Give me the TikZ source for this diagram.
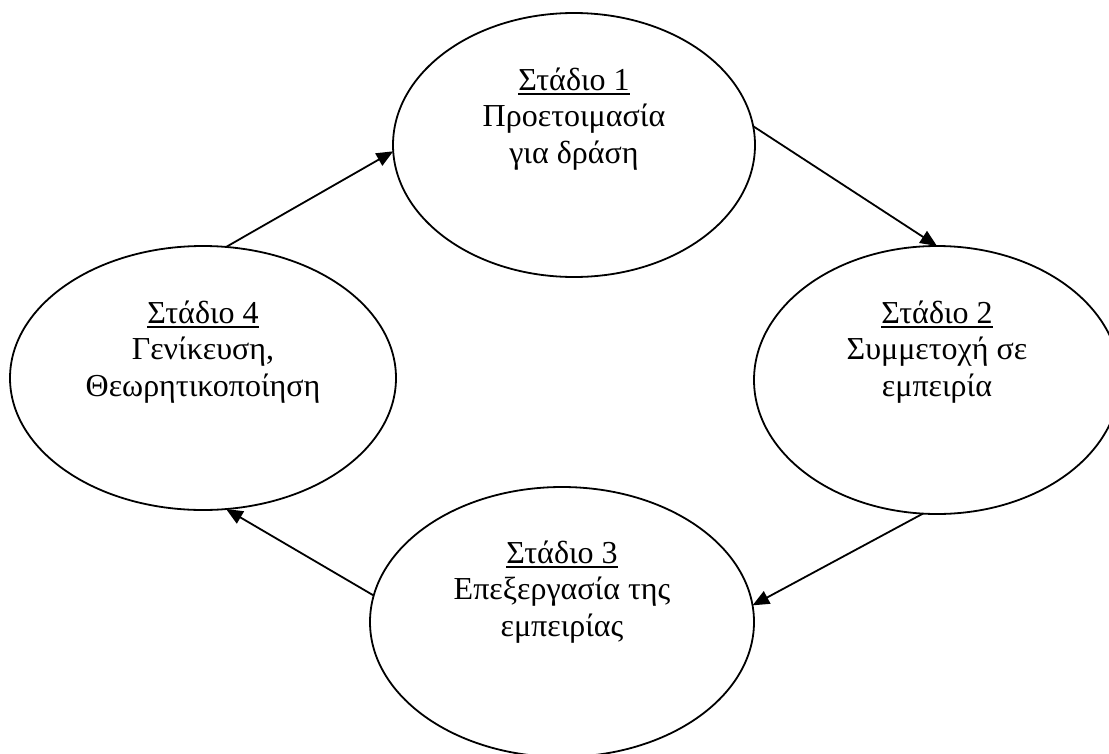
\documentclass[tikz,border=0pt]{standalone}
\usepackage{fontspec}
\setmainfont{Liberation Serif}
\usetikzlibrary{shapes.geometric,arrows.meta}
\newcommand\stageul[1]{\leavevmode\vtop{\hbox{#1}\kern2.2pt\hrule height 1.1pt}}
\begin{document}
\begin{tikzpicture}[x=0.75pt,y=-0.75pt,
  stage/.style={draw, ellipse, line width=1.35pt, inner sep=0pt, outer sep=0pt},
  txt/.style={anchor=base, inner sep=0pt, font=\fontsize{24}{27.5}\selectfont},
  flow/.style={line width=1.35pt, -{Triangle[length=12.5pt,width=10.5pt]}}]
\path[use as bounding box] (0,0) rectangle (1109,753);
\clip (0,0) rectangle (1109,753);
% ellipses
\node[stage, minimum width=271.5pt, minimum height=198pt] (s1) at (574,145) {};
\node[stage, minimum width=274.5pt, minimum height=201pt] (s2) at (937,380) {};
\node[stage, minimum width=288pt, minimum height=202.5pt] (s3) at (562,622) {};
\node[stage, minimum width=289.5pt, minimum height=198pt] (s4) at (203,378) {};
% texts
\node[txt] (t1) at (574,90) {\begin{tabular}[t]{@{}c@{}}\stageul{Στάδιο 1}\\Προετοιμασία\\για δράση\end{tabular}};
\node[txt] (t2) at (937,323) {\begin{tabular}[t]{@{}c@{}}\stageul{Στάδιο 2}\\Συμμετοχή σε\\εμπειρία\end{tabular}};
\node[txt] (t3) at (562,563) {\begin{tabular}[t]{@{}c@{}}\stageul{Στάδιο 3}\\Επεξεργασία της\\εμπειρίας\end{tabular}};
\node[txt] (t4) at (203,323) {\begin{tabular}[t]{@{}c@{}}\stageul{Στάδιο 4}\\Γενίκευση,\\Θεωρητικοποίηση\end{tabular}};
% arrows
\draw[flow] (s4.80) -- (s1.182);
\draw[flow] (s1.6) -- (s2.north);
\draw[flow] (s2.264) -- (s3.5);
\draw[flow] (s3.172) -- (s4.280);
\end{tikzpicture}
\end{document}
